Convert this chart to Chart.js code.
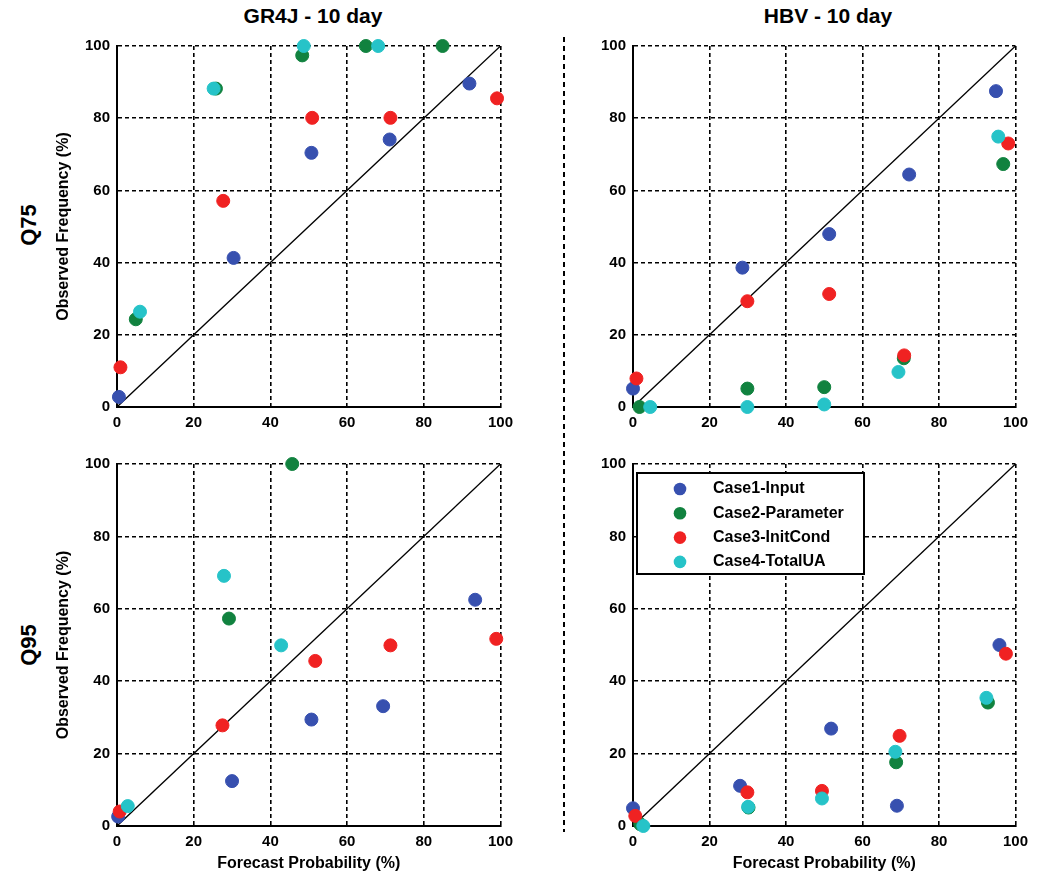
<!DOCTYPE html>
<html>
<head>
<meta charset="utf-8">
<script src="https://cdn.jsdelivr.net/npm/chart.js@4"></script>
<style>
  body { margin: 0; background: #fff; width: 1037px; height: 873px; position: relative; overflow: hidden;
         font-family: 'Liberation Sans', Arial, sans-serif; font-weight: bold; color: #000; }
  canvas { position: absolute; }
  .ttl { position: absolute; top: 4px; font-size: 21px; width: 400px; text-align: center; }
  .row { position: absolute; left: 29px; font-size: 22px; white-space: nowrap;
         transform: translate(-50%, -50%) rotate(-90deg); }
  .divider { position: absolute; left: 563px; top: 37px; width: 2px; height: 795px;
             background: repeating-linear-gradient(to bottom, #000 0 5px, transparent 5px 9px); }
</style>
</head>
<body>
<div class="ttl" style="left:113px">GR4J - 10 day</div>
<div class="ttl" style="left:628px">HBV - 10 day</div>
<div class="row" style="top:225px">Q75</div>
<div class="row" style="top:645px">Q95</div>
<div class="divider"></div>

<canvas id="gr4jQ75" width="466" height="402" style="left:54px;top:30px"></canvas>
<canvas id="hbvQ75" width="442" height="402" style="left:593px;top:30px"></canvas>
<canvas id="gr4jQ95" width="466" height="425" style="left:54px;top:448px"></canvas>
<canvas id="hbvQ95" width="442" height="425" style="left:593px;top:448px"></canvas>

<script>
// axis ticks (both axes, all panels)
const probTicks = [0, 20, 40, 60, 80, 100];
const caseNames = ['Case1-Input', 'Case2-Parameter', 'Case3-InitCond', 'Case4-TotalUA'];
const caseColors = ['#3750af', '#11823f', '#f02222', '#26c3c8'];
const diagonal = [[0, 0], [100, 100]];

// [forecast probability, observed frequency] pairs
const gr4jQ75Input = [[0.5, 2.8], [30.4, 41.3], [50.7, 70.4], [71.1, 74.1], [91.9, 89.6]];
const gr4jQ75Param = [[4.9, 24.3], [25.8, 88.2], [48.3, 97.4], [64.9, 100], [84.9, 100]];
const gr4jQ75Init  = [[0.9, 11], [27.7, 57.1], [50.9, 80.1], [71.3, 80.1], [99.1, 85.5]];
const gr4jQ75Total = [[6, 26.4], [25.2, 88.2], [48.7, 100], [68.1, 100]];

const hbvQ75Input = [[0, 5.1], [28.6, 38.6], [51.3, 47.9], [72.2, 64.4], [94.9, 87.5]];
const hbvQ75Param = [[1.7, 0], [29.9, 5.1], [50, 5.5], [70.8, 13.5], [96.8, 67.3]];
const hbvQ75Init  = [[0.9, 7.9], [29.9, 29.3], [51.3, 31.3], [70.9, 14.3], [98.1, 73]];
const hbvQ75Total = [[4.5, 0], [29.9, 0], [50, 0.7], [69.4, 9.7], [95.5, 74.9]];

const gr4jQ95Input = [[0.3, 2.6], [30, 12.4], [50.7, 29.4], [69.4, 33.1], [93.4, 62.5]];
const gr4jQ95Param = [[29.2, 57.3], [45.7, 100]];
const gr4jQ95Init  = [[0.7, 4], [27.5, 27.8], [51.7, 45.6], [71.3, 49.9], [98.9, 51.7]];
const gr4jQ95Total = [[2.8, 5.5], [27.9, 69.1], [42.8, 49.9]];

const hbvQ95Input = [[0, 4.9], [28, 11.1], [51.8, 26.9], [69, 5.6], [95.8, 50]];
const hbvQ95Param = [[1.9, 0.5], [30.2, 5.1], [68.8, 17.6], [92.8, 34.1]];
const hbvQ95Init  = [[0.6, 2.8], [29.9, 9.3], [49.4, 9.7], [69.7, 24.9], [97.5, 47.6]];
const hbvQ95Total = [[2.7, 0], [30.1, 5.3], [49.4, 7.6], [68.6, 20.5], [92.4, 35.4]];

Chart.defaults.font.family = "'Liberation Sans', Arial, sans-serif";
Chart.defaults.color = '#000';

const toXY = pts => pts.map(p => ({ x: p[0], y: p[1] }));

// legend box drawn inside the plot area of the last panel
const legendBox = {
    id: 'legendBox',
    afterDatasetsDraw(chart) {
        const { ctx, chartArea: a } = chart;
        const x0 = a.left + 4, y0 = a.top + 9, w = 227, h = 101;
        ctx.save();
        ctx.fillStyle = '#fff';
        ctx.fillRect(x0, y0, w, h);
        ctx.lineWidth = 2;
        ctx.strokeStyle = '#000';
        ctx.strokeRect(x0, y0, w, h);
        ctx.font = "bold 16px 'Liberation Sans', Arial, sans-serif";
        ctx.textBaseline = 'middle';
        caseNames.forEach((name, i) => {
            const y = y0 + 16 + i * 24.3;
            ctx.fillStyle = caseColors[i];
            ctx.beginPath();
            ctx.arc(x0 + 43, y, 6.3, 0, Math.PI * 2);
            ctx.fill();
            ctx.fillStyle = '#000';
            ctx.fillText(name, x0 + 76, y);
        });
        ctx.restore();
    }
};

function axis(opts) {
    return {
        type: 'linear',
        min: 0,
        max: 100,
        afterBuildTicks: s => { s.ticks = probTicks.map(v => ({ value: v })); },
        grid: {
            color: c => (c.tick && c.tick.value === 0) ? 'rgba(0,0,0,0)' : '#000',
            lineWidth: 1.6,
            drawTicks: false
        },
        border: { display: true, color: '#000', width: 2, dash: [4, 3] },
        ticks: { color: '#000', font: { size: 15, weight: 'bold' }, padding: 7, maxRotation: 0 },
        title: {
            display: !!opts.title,
            text: opts.title || '',
            font: { size: 16, weight: 'bold' },
            padding: 0
        },
        afterFit: opts.fit
    };
}

function makePanel(id, series, o) {
    const datasets = series.map((pts, i) => ({
        type: 'scatter',
        label: caseNames[i],
        data: toXY(pts),
        backgroundColor: caseColors[i],
        borderColor: caseColors[i],
        borderWidth: 1,
        pointRadius: 6.5,
        order: 4 - i,
        clip: false
    }));
    datasets.push({
        type: 'line',
        label: '1:1',
        data: toXY(diagonal),
        borderColor: '#000',
        borderWidth: 1.3,
        pointRadius: 0,
        order: 10
    });

    new Chart(document.getElementById(id), {
        type: 'scatter',
        data: { datasets },
        options: {
            responsive: false,
            animation: false,
            layout: { padding: { top: 15, right: 11 } },
            plugins: { legend: { display: false }, tooltip: { enabled: false } },
            scales: {
                x: axis({ title: o.xTitle, fit: s => { s.height = o.xh; } }),
                y: axis({ title: o.yTitle, fit: s => { s.width = o.yw; } })
            }
        },
        plugins: o.legend ? [legendBox] : []
    });
}

const yLabel = 'Observed Frequency (%)';
const xLabel = 'Forecast Probability (%)';

makePanel('gr4jQ75', [gr4jQ75Input, gr4jQ75Param, gr4jQ75Init, gr4jQ75Total],
    { yTitle: yLabel, yw: 63, xh: 25 });
makePanel('hbvQ75', [hbvQ75Input, hbvQ75Param, hbvQ75Init, hbvQ75Total],
    { yw: 40, xh: 25 });
makePanel('gr4jQ95', [gr4jQ95Input, gr4jQ95Param, gr4jQ95Init, gr4jQ95Total],
    { yTitle: yLabel, xTitle: xLabel, yw: 63, xh: 47 });
makePanel('hbvQ95', [hbvQ95Input, hbvQ95Param, hbvQ95Init, hbvQ95Total],
    { xTitle: xLabel, yw: 40, xh: 47, legend: true });
</script>
</body>
</html>
